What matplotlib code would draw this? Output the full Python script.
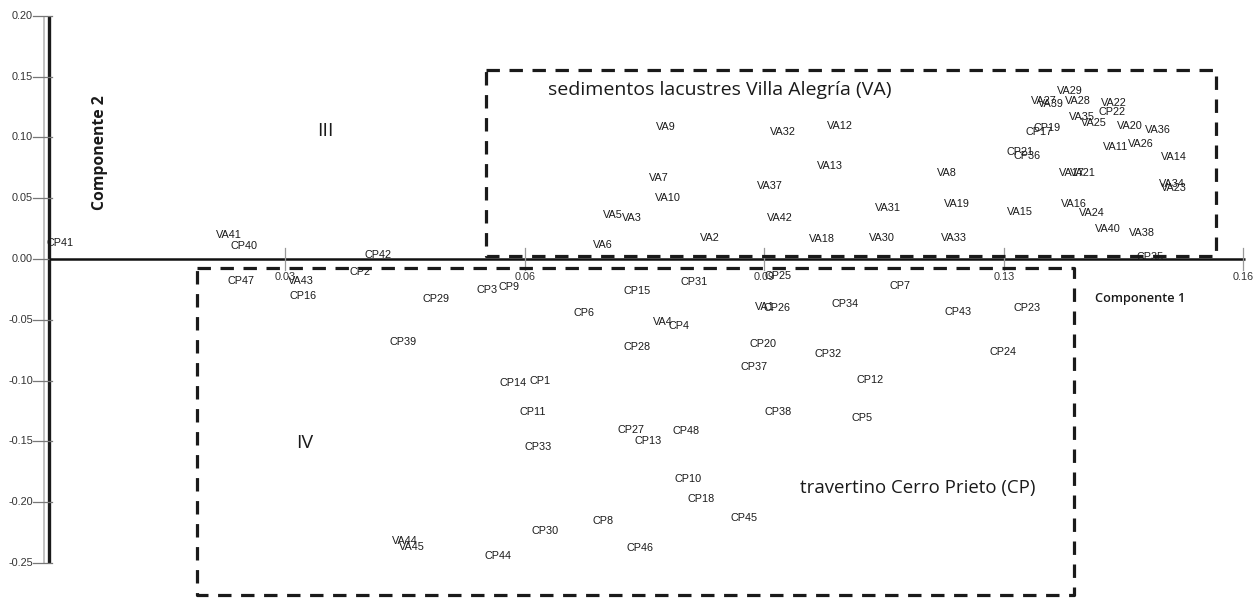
import matplotlib
matplotlib.use("Agg")
import matplotlib.pyplot as plt

# ---------------- data (Componente 1, Componente 2) ----------------
va_names = ["VA1", "VA2", "VA3", "VA4", "VA5", "VA6", "VA7", "VA8", "VA9", "VA10",
            "VA11", "VA12", "VA13", "VA14", "VA15", "VA16", "VA17", "VA18", "VA19", "VA20",
            "VA21", "VA22", "VA23", "VA24", "VA25", "VA26", "VA27", "VA28", "VA29", "VA30",
            "VA31", "VA32", "VA33", "VA34", "VA35", "VA36", "VA37", "VA38", "VA39", "VA40",
            "VA41", "VA42", "VA43", "VA44", "VA45"]
va_x = [0.0976, 0.0901, 0.0795, 0.0837, 0.0769, 0.0756, 0.0832, 0.1223, 0.0841, 0.0844,
        0.1451, 0.1077, 0.1064, 0.1531, 0.1322, 0.1395, 0.1392, 0.1053, 0.1236, 0.1471,
        0.1407, 0.1449, 0.1531, 0.1419, 0.1422, 0.1486, 0.1354, 0.1400, 0.1390, 0.1134,
        0.1143, 0.1000, 0.1232, 0.1528, 0.1406, 0.1509, 0.0982, 0.1487, 0.1364, 0.1441,
        0.0248, 0.0996, 0.0346, 0.0487, 0.0497]
va_y = [-0.0395, 0.0173, 0.0337, -0.0518, 0.0362, 0.0115, 0.0666, 0.0707, 0.1085, 0.0501,
        0.0921, 0.1093, 0.0765, 0.0838, 0.0386, 0.0452, 0.0707, 0.0164, 0.0452, 0.1093,
        0.0707, 0.1282, 0.0584, 0.0378, 0.1118, 0.0945, 0.1299, 0.1299, 0.1381, 0.0173,
        0.0419, 0.1044, 0.0173, 0.0617, 0.1167, 0.1060, 0.0600, 0.0214, 0.1274, 0.0247,
        0.0197, 0.0337, -0.0181, -0.2318, -0.2367]

cp_names = ["CP1", "CP2", "CP3", "CP4", "CP5", "CP6", "CP7", "CP8", "CP9", "CP10",
            "CP11", "CP12", "CP13", "CP14", "CP15", "CP16", "CP17", "CP18", "CP19", "CP20",
            "CP21", "CP22", "CP23", "CP24", "CP25", "CP26", "CP27", "CP28", "CP29", "CP30",
            "CP31", "CP32", "CP33", "CP34", "CP35", "CP36", "CP37", "CP38", "CP39", "CP40",
            "CP41", "CP42", "CP43", "CP44", "CP45", "CP46", "CP47", "CP48"]
cp_x = [0.0670, 0.0426, 0.0598, 0.0859, 0.1107, 0.0730, 0.1159, 0.0756, 0.0628, 0.0871,
        0.0660, 0.1118, 0.0817, 0.0634, 0.0802, 0.0349, 0.1348, 0.0889, 0.1358, 0.0973,
        0.1322, 0.1447, 0.1331, 0.1299, 0.0993, 0.0992, 0.0794, 0.0802, 0.0529, 0.0677,
        0.0879, 0.1061, 0.0668, 0.1084, 0.1498, 0.1331, 0.0961, 0.0993, 0.0484, 0.0269,
        0.0019, 0.0451, 0.1238, 0.0613, 0.0947, 0.0806, 0.0265, 0.0868]
cp_y = [-0.1003, -0.0107, -0.0255, -0.0551, -0.1307, -0.0444, -0.0222, -0.2154, -0.0230, -0.1808,
        -0.1258, -0.0995, -0.1496, -0.1019, -0.0263, -0.0304, 0.1044, -0.1973, 0.1077, -0.0699,
        0.0880, 0.1208, -0.0403, -0.0764, -0.0140, -0.0403, -0.1406, -0.0723, -0.0329, -0.2236,
        -0.0189, -0.0781, -0.1545, -0.0370, 0.0016, 0.0847, -0.0888, -0.1258, -0.0682, 0.0107,
        0.0132, 0.0033, -0.0436, -0.2441, -0.2129, -0.2376, -0.0181, -0.1414]

y_ticks = [0.20, 0.15, 0.10, 0.05, 0.00, -0.05, -0.10, -0.15, -0.20, -0.25]
y_tick_labels = ["0.20", "0.15", "0.10", "0.05", "0.00", "-0.05", "-0.10", "-0.15", "-0.20", "-0.25"]
x_ticks = [0.0325, 0.065, 0.0975, 0.13, 0.1625]
x_tick_labels = ["0.03", "0.06", "0.09", "0.13", "0.16"]

# ---------------- figure ----------------
W, H, DPI = 1254, 599, 100
fig = plt.figure(figsize=(W / DPI, H / DPI), dpi=DPI)
ax = fig.add_axes([0, 0, 1, 1])
XPX0, XSC = 46.0, 7369.0   # pixel of x=0, pixels per unit
YPX0, YSC = 259.0, 1216.0
ax.set_xlim(-XPX0 / XSC, (W - XPX0) / XSC)
ax.set_ylim((YPX0 - H) / YSC, YPX0 / YSC)
ax.axis("off")

def px(n):   # horizontal pixel distance -> data
    return n / XSC

def py(n):   # vertical pixel distance -> data
    return n / YSC

ptfont = dict(family=["Liberation Sans", "DejaVu Sans"], fontsize=7.8, color="#1a1a1a",
              ha="center", va="center")
bigfont = ["Open Sans", "DejaVu Sans"]

# y axis: grey + black thick line
ymin_t, ymax_t = min(y_ticks), max(y_ticks)
ax.plot([-px(2), -px(2)], [ymin_t, ymax_t], color="#b8b8b8", lw=1.2, solid_capstyle="butt")
ax.plot([px(3.5), px(3.5)], [ymin_t, ymax_t], color="#1a1a1a", lw=2.4, solid_capstyle="butt")
for t, lab in zip(y_ticks, y_tick_labels):
    ax.plot([-px(13), px(6)], [t, t], color="#777777", lw=0.9)
    ax.text(-px(13), t, lab, family=["Liberation Sans", "DejaVu Sans"], fontsize=7.8,
            color="#333333", ha="right", va="center")

# x axis
ax.plot([px(3), px(1199)], [0, 0], color="#111111", lw=1.8, solid_capstyle="butt")
for t, lab in zip(x_ticks, x_tick_labels):
    ax.plot([t, t], [py(11), -py(11)], color="#999999", lw=0.9)
    ax.text(t, -py(18), lab, family=["Liberation Sans", "DejaVu Sans"], fontsize=7.8,
            color="#333333", ha="center", va="center")

# dashed boxes
dash = dict(color="#1a1a1a", lw=2.3, linestyle=(0, (4.2, 3.0)))
va_box = (px(440), px(1170), py(3), py(189))
cp_box = (px(151), px(1028), -py(336), -py(9))
for x0, x1, y0, y1 in (va_box, cp_box):
    ax.plot([x0, x1, x1, x0, x0], [y1, y1, y0, y0, y1], **dash)

# point labels
for n, x, y in zip(va_names, va_x, va_y):
    ax.text(x, y, n, **ptfont)
for n, x, y in zip(cp_names, cp_x, cp_y):
    ax.text(x, y, n, **ptfont)

# annotations
ax.text(px(502), py(259 - 90), "sedimentos lacustres Villa Alegría (VA)", family=bigfont,
        fontsize=14, color="#1a1a1a", ha="left", va="center")
ax.text(px(754), py(259 - 488), "travertino Cerro Prieto (CP)", family=bigfont,
        fontsize=13.4, color="#1a1a1a", ha="left", va="center")
ax.text(px(279), py(259 - 131), "III", family=bigfont, fontsize=14, color="#1a1a1a",
        ha="center", va="center")
ax.text(px(259), py(259 - 443), "IV", family=bigfont, fontsize=14, color="#1a1a1a",
        ha="center", va="center")
ax.text(px(54), py(259 - 153), "Componente 2", family=bigfont, fontsize=11.3,
        fontweight="bold", color="#1a1a1a", rotation=90, ha="center", va="center")
ax.text(px(1094), py(259 - 298), "Componente 1", family=bigfont, fontsize=9.2,
        fontweight="semibold", color="#1a1a1a", ha="center", va="center")

fig.savefig("out.png", dpi=DPI)
